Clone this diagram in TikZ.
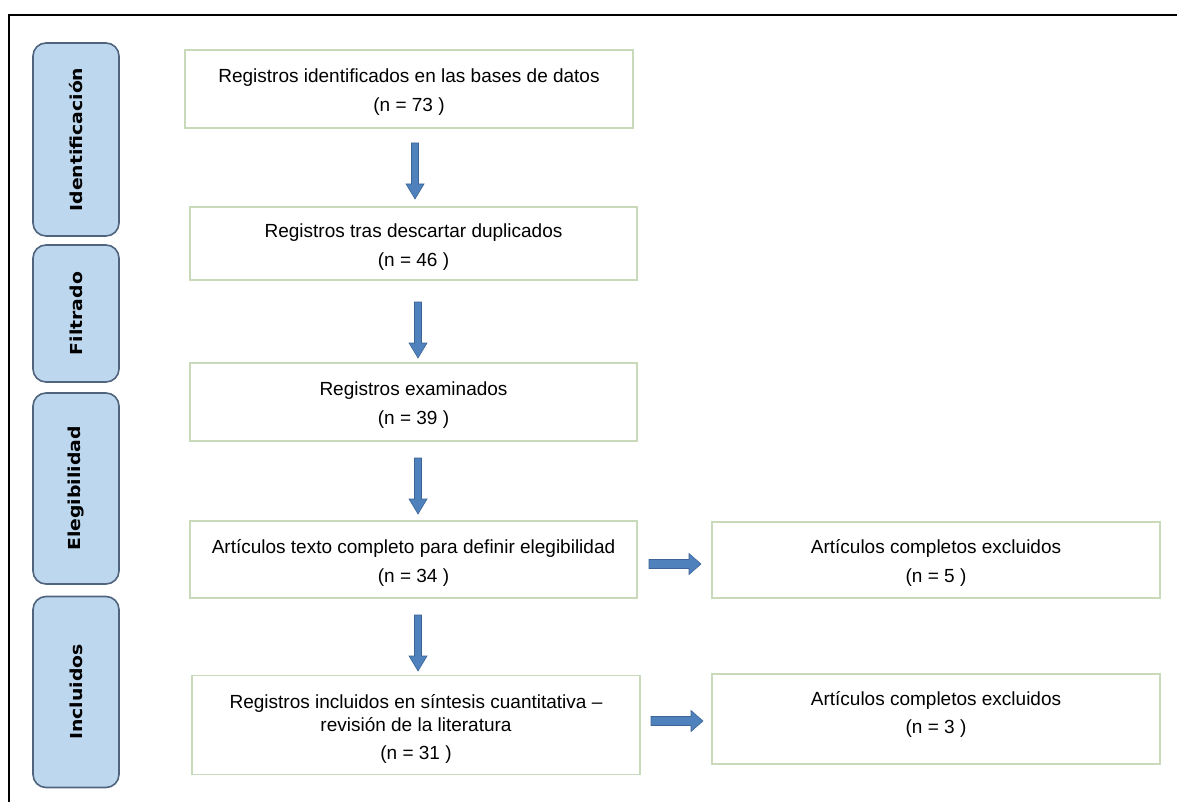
\documentclass[tikz,border=0pt]{standalone}
\usepackage{fontspec}
\setmainfont{Liberation Sans}
\newfontfamily\sidefont{DejaVu Sans}
\definecolor{sidefill}{RGB}{189,215,238}
\definecolor{sidedraw}{RGB}{80,100,125}
\definecolor{boxdraw}{RGB}{200,218,186}
\definecolor{arrfill}{RGB}{79,129,189}
\definecolor{arrdraw}{RGB}{60,100,150}
\tikzset{
  sidebox/.style={draw=sidedraw, fill=sidefill, line width=1.6pt, rounded corners=13pt,
    minimum width=86pt, inner sep=0pt},
  sidelabel/.style={rotate=90, font=\sidefont\bfseries\fontsize{16.5}{20}\selectfont},
  mainbox/.style={draw=boxdraw, line width=1.8pt, inner sep=0pt, align=center,
    font=\fontsize{19}{23}\selectfont},
  blockarr/.style={draw=arrdraw, fill=arrfill, line width=0.6pt, line join=miter},
}
\newcommand{\sidetext}[1]{\scalebox{1.14}[1]{#1}}
\newcommand{\topstrut}{\rule{0pt}{20pt}}
\begin{document}
\begin{tikzpicture}[x=1pt, y=-1pt]
\useasboundingbox (0,0) rectangle (1177,802);
% frame
\coordinate (ftl) at (9,15);
\coordinate (ftr) at (1177,15);
\coordinate (fbl) at (9,802);
\draw[line width=2.6pt] (fbl) -- (ftl) -- (ftr);
% side boxes
\node[sidebox, minimum height=193pt] (s1) at (76,139.5) {};
\node[sidelabel] (s1t) at (s1.center) {\sidetext{Identificación}};
\node[sidebox, minimum height=137pt] (s2) at (76,313.5) {};
\node[sidelabel] (s2t) at (s2.center) {\sidetext{Filtrado}};
\node[sidebox, minimum height=191pt] (s3) at (76,488.5) {};
\node[sidelabel] (s3t) at (s3.center) {\sidetext{Elegibilidad}};
\node[sidebox, minimum height=191pt] (s4) at (76,692) {};
\node[sidelabel] (s4t) at (s4.center) {\sidetext{Incluidos}};
% main boxes
\node[mainbox, minimum width=448pt, minimum height=78pt] (b1) at (409,89)
  {\topstrut Registros identificados en las bases de datos\\[6pt](n = 73 )};
\node[mainbox, minimum width=447pt, minimum height=73pt] (b2) at (413.5,243.5)
  {\topstrut Registros tras descartar duplicados\\[6pt](n = 46 )};
\node[mainbox, minimum width=447pt, minimum height=78pt] (b3) at (413.5,402)
  {\topstrut Registros examinados\\[6pt](n = 39 )};
\node[mainbox, minimum width=447pt, minimum height=77pt] (b4) at (413.5,559.5)
  {\topstrut Artículos texto completo para definir elegibilidad\\[6pt](n = 34 )};
\node[mainbox, minimum width=448pt, minimum height=99pt] (b5) at (416,725)
  {\rule{0pt}{22pt}Registros incluidos en síntesis cuantitativa --\\revisión de la literatura\\[5pt](n = 31 )};
\node[mainbox, minimum width=448pt, minimum height=76pt] (r1) at (936,560)
  {\topstrut Artículos completos excluidos\\[6pt](n = 5 )};
\node[mainbox, minimum width=448pt, minimum height=90pt] (r2) at (936,719)
  {Artículos completos excluidos\\[5pt](n = 3 )\rule[-14pt]{0pt}{0pt}};
% arrow anchor coordinates (tail of each block arrow)
\coordinate (a1) at (415,143);
\coordinate (a2) at (418,302);
\coordinate (a3) at (418,458);
\coordinate (a4) at (418,615);
\coordinate (a5) at (649,564);
\coordinate (a6) at (651,721);
% down block arrows
\foreach \c in {a1,a2,a3,a4}{
  \draw[blockarr, shift={(\c)}] (-3.5,0) -- (3.5,0) -- (3.5,41) -- (9,41) -- (0,56)
    -- (-9,41) -- (-3.5,41) -- cycle;
}
% right block arrows
\foreach \c in {a5,a6}{
  \draw[blockarr, shift={(\c)}] (0,-4.5) -- (40,-4.5) -- (40,-10.5) -- (52,0)
    -- (40,10.5) -- (40,4.5) -- (0,4.5) -- cycle;
}
\end{tikzpicture}
\end{document}
